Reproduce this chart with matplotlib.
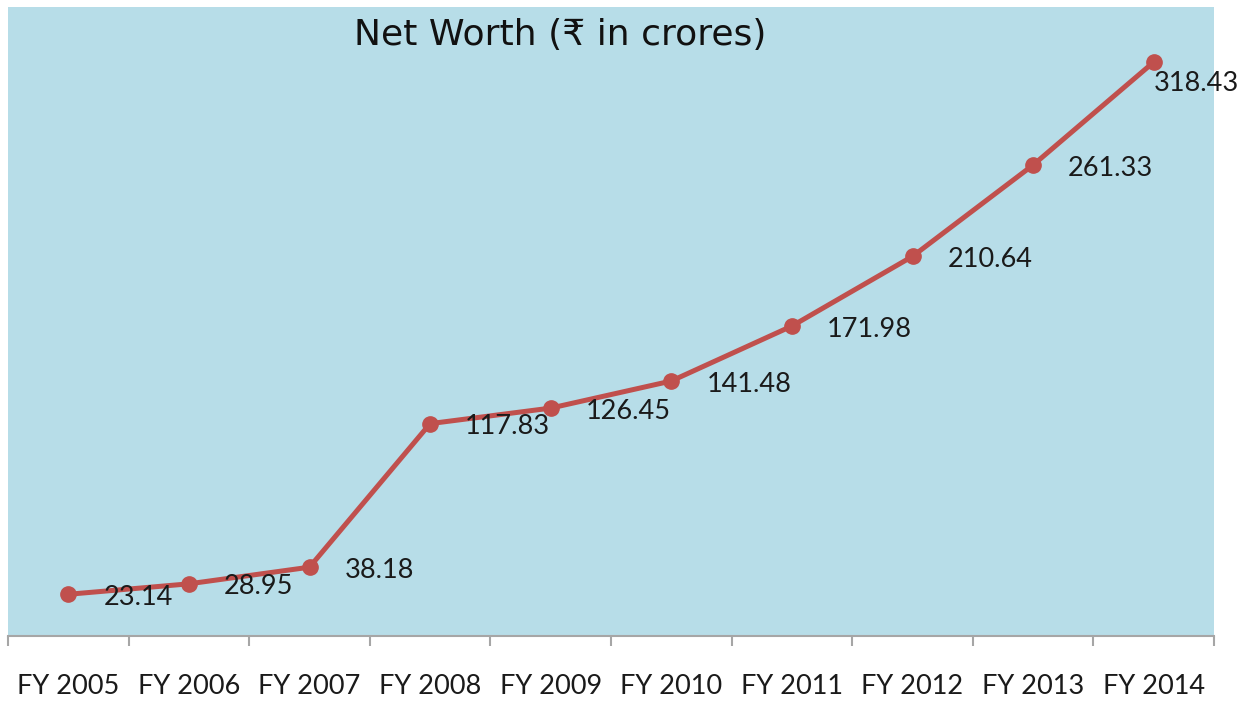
import numpy as np
import matplotlib.pyplot as plt
from matplotlib.ticker import FixedLocator

years = ["FY 2005", "FY 2006", "FY 2007", "FY 2008", "FY 2009",
         "FY 2010", "FY 2011", "FY 2012", "FY 2013", "FY 2014"]
net_worth = [23.14, 28.95, 38.18, 117.83, 126.45,
             141.48, 171.98, 210.64, 261.33, 318.43]

bg_color = '#b7dde8'
line_color = '#c0504d'
axis_color = '#a6a6a6'
label_font = ['Lato', 'DejaVu Sans']

W, H = 1253, 702
fig = plt.figure(figsize=(W / 100, H / 100), dpi=100)
fig.patch.set_facecolor('white')

# plot area in pixels: left 8, right 1214, top 7, bottom 636
ax = fig.add_axes([8 / W, 1 - 636 / H, (1214 - 8) / W, (636 - 7) / H])
ax.set_facecolor(bg_color)

x = np.arange(len(years))
ax.plot(x, net_worth, color=line_color, linewidth=3.6, marker='o',
        markersize=11, zorder=3)

# data labels to the right of each point, last one tucked under
for i, v in enumerate(net_worth):
    if i == len(net_worth) - 1:
        off = (0, -21)
    else:
        off = (35, -3)
    ax.annotate(f"{v:.2f}", (x[i], v), xytext=off, textcoords='offset pixels',
                ha='left', va='center', fontsize=19.5, color='#1a1a1a',
                family=label_font, zorder=4)

ax.set_xlim(-0.5, len(years) - 0.5)
ax.set_ylim(0, 349)

for side in ['top', 'right', 'left']:
    ax.spines[side].set_visible(False)
ax.spines['bottom'].set_color(axis_color)
ax.spines['bottom'].set_linewidth(1.5)

ax.set_yticks([])
ax.set_xticks(x)
ax.set_xticklabels(years, fontsize=19.5, family=label_font, color='#1a1a1a')
ax.tick_params(axis='x', which='major', length=0, pad=27)
ax.xaxis.set_minor_locator(FixedLocator(np.arange(-0.5, len(years), 1.0)))
ax.tick_params(axis='x', which='minor', length=7.5, width=1.5,
               color=axis_color, direction='out')

fig.text(560 / W, 1 - 35 / H, "Net Worth (₹ in crores)", ha='center',
         va='center', fontsize=26, family=['DejaVu Sans'], color='#111111')

fig.savefig('out.png', dpi=100, facecolor='white')
